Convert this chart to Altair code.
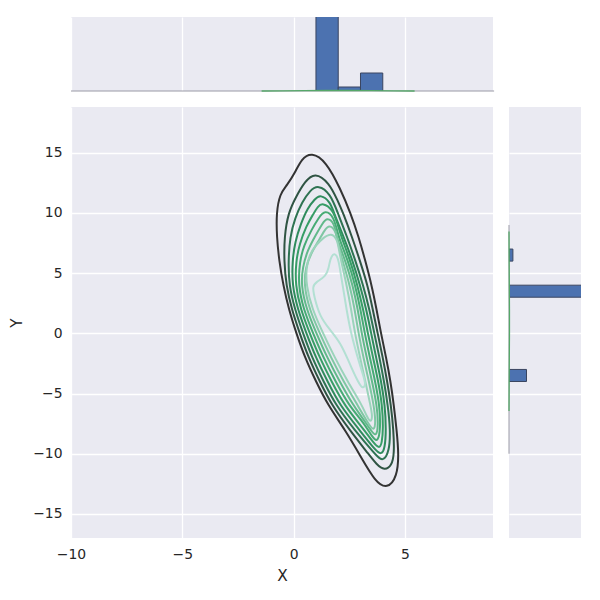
import altair as alt
import pandas as pd

# ---------------- data ----------------
X_DOMAIN = [-10, 8.95]
Y_DOMAIN = [-17.0, 18.8]
X_TICKS = [-10, -5, 0, 5]
Y_TICKS = [-15, -10, -5, 0, 5, 10, 15]

# histogram bins (width 1, from -10 to 9) and counts of the marginals
BIN_EDGES = list(range(-10, 10))
HIST_X_COUNTS = [0, 0, 0, 0, 0, 0, 0, 0, 0, 0, 0, 20, 1, 4.5, 0, 0, 0, 0, 0]
HIST_Y_COUNTS = [0, 0, 0, 0, 0, 0, 4.5, 0, 0, 0, 0, 0, 0, 20, 0, 0, 1, 0, 0]
HIST_MAX = 18.5

# marginal KDE curves (nearly flat on the baseline)
KDE_X_GRID = [-1.44, -0.5, 0.5, 1.5, 2.5, 3.5, 4.5, 5.43]
KDE_X_VALS = [0.0, 0.03, 0.08, 0.12, 0.12, 0.08, 0.03, 0.0]
KDE_Y_GRID = [-6.46, -4, -2, 0, 2, 4, 6, 8.45]
KDE_Y_VALS = [0.0, 0.04, 0.08, 0.12, 0.12, 0.08, 0.04, 0.0]

# contour lines (outer -> inner), traced control points (x, y)
CONTOUR_1 = [(0.8, 15.05), (1.45, 14.3), (2.1, 12.0), (2.55, 10.0), (2.92, 8.0), (3.22, 6.0), (3.5, 4.0),
             (3.72, 2.0), (3.92, 0.0), (4.15, -2.0), (4.35, -4.0), (4.5, -6.0), (4.62, -8.0), (4.72, -10.0),
             (4.65, -11.9), (4.2, -12.95), (3.65, -12.3), (3.0, -10.2), (2.3, -8.0), (1.55, -6.0), (1.0, -4.0),
             (0.5, -2.0), (0.12, 0.0), (-0.22, 2.0), (-0.47, 4.0), (-0.65, 6.0), (-0.76, 8.0), (-0.78, 10.0),
             (-0.62, 11.6), (-0.3, 12.3), (0.05, 13.3), (0.35, 14.5)]
CONTOUR_2 = [(0.95, 13.4), (1.6, 12.5), (1.98, 11.0), (2.22, 10.0), (2.62, 8.0), (2.98, 6.0), (3.32, 4.0),
             (3.55, 2.0), (3.77, 0.0), (4.0, -2.0), (4.2, -4.0), (4.37, -6.0), (4.48, -8.0), (4.52, -10.0),
             (4.4, -11.0), (4.08, -11.4), (3.72, -10.9), (3.35, -10.0), (2.5, -8.0), (1.72, -6.0),
             (1.17, -4.0), (0.66, -2.0), (0.27, 0.0), (-0.09, 2.0), (-0.34, 4.0), (-0.43, 6.0), (-0.42, 8.0),
             (-0.25, 10.0), (0.12, 11.4), (0.5, 12.6)]
CONTOUR_3 = [(1.1, 12.35), (1.65, 11.6), (1.98, 10.0), (2.4, 8.0), (2.78, 6.0), (3.12, 4.0), (3.4, 2.0),
             (3.62, 0.0), (3.85, -2.0), (4.06, -4.0), (4.23, -6.0), (4.34, -8.0), (4.3, -9.8), (4.0, -10.7),
             (3.68, -10.1), (2.72, -8.0), (1.9, -6.0), (1.34, -4.0), (0.82, -2.0), (0.42, 0.0), (0.05, 2.0),
             (-0.21, 4.0), (-0.24, 6.0), (-0.17, 8.0), (0.06, 9.6), (0.38, 10.9), (0.72, 11.85)]
CONTOUR_4 = [(1.2, 11.55), (1.65, 10.9), (1.8, 10.0), (2.25, 8.0), (2.65, 6.0), (2.98, 4.0), (3.26, 2.0),
             (3.48, 0.0), (3.7, -2.0), (3.93, -4.0), (4.1, -6.0), (4.15, -8.0), (4.1, -9.5), (3.94, -10.15),
             (3.62, -9.6), (2.94, -8.0), (2.08, -6.0), (1.52, -4.0), (0.99, -2.0), (0.57, 0.0), (0.18, 2.0),
             (-0.07, 4.0), (-0.06, 6.0), (0.06, 7.6), (0.32, 9.1), (0.62, 10.4), (0.95, 11.15)]
CONTOUR_5 = [(1.3, 10.85), (1.75, 10.3), (1.95, 9.2), (2.14, 8.0), (2.55, 6.0), (2.86, 4.0), (3.12, 2.0),
             (3.33, 0.0), (3.56, -2.0), (3.8, -4.0), (3.98, -6.0), (4.02, -8.0), (3.96, -9.1), (3.86, -9.6),
             (3.58, -9.1), (3.16, -8.0), (2.28, -6.0), (1.7, -4.0), (1.16, -2.0), (0.72, 0.0), (0.31, 2.0),
             (0.07, 4.0), (0.1, 6.0), (0.26, 7.4), (0.56, 8.9), (0.88, 9.9), (1.08, 10.55)]
CONTOUR_6 = [(1.4, 10.25), (1.82, 9.7), (2.0, 8.0), (2.45, 6.0), (2.76, 4.0), (3.0, 2.0), (3.19, 0.0),
             (3.42, -2.0), (3.66, -4.0), (3.86, -6.0), (3.9, -7.9), (3.78, -9.1), (3.52, -8.6),
             (3.18, -7.5), (2.48, -6.0), (1.88, -4.0), (1.33, -2.0), (0.87, 0.0), (0.44, 2.0), (0.2, 4.0),
             (0.27, 6.0), (0.46, 7.3), (0.8, 8.6), (1.12, 9.6)]
CONTOUR_7 = [(1.5, 9.65), (1.85, 9.1), (1.9, 8.0), (2.33, 6.0), (2.65, 4.0), (2.88, 2.0), (3.05, 0.0),
             (3.28, -2.0), (3.52, -4.0), (3.74, -6.0), (3.8, -7.7), (3.7, -8.62), (3.48, -8.1), (3.08, -7.0),
             (2.68, -6.0), (2.06, -4.0), (1.5, -2.0), (1.02, 0.0), (0.57, 2.0), (0.33, 4.0), (0.4, 5.5),
             (0.62, 6.9), (0.97, 8.1), (1.28, 9.1)]
CONTOUR_8 = [(1.6, 9.05), (1.9, 8.5), (1.98, 7.5), (2.2, 6.0), (2.52, 4.0), (2.74, 2.0), (2.91, 0.0),
             (3.13, -2.0), (3.38, -4.0), (3.6, -6.0), (3.68, -7.3), (3.62, -8.15), (3.38, -7.6), (2.88, -6.0),
             (2.24, -4.0), (1.67, -2.0), (1.17, 0.0), (0.7, 2.0), (0.46, 4.0), (0.53, 5.5), (0.8, 6.7),
             (1.12, 7.7), (1.38, 8.55)]
CONTOUR_9 = [(1.7, 8.35), (1.95, 7.8), (2.03, 7.0), (2.13, 6.0), (2.38, 4.0), (2.58, 2.0), (2.75, 0.0),
             (2.98, -2.0), (3.22, -4.0), (3.45, -6.0), (3.54, -6.9), (3.47, -7.45), (3.28, -6.9), (3.08, -6.0),
             (2.42, -4.0), (1.84, -2.0), (1.32, 0.0), (0.83, 2.0), (0.56, 4.0), (0.56, 5.4), (0.7, 6.5),
             (0.98, 7.3), (1.33, 7.95)]
CONTOUR_10 = [(1.82, 6.75), (2.0, 6.25), (2.08, 5.3), (2.2, 4.0), (2.37, 2.0), (2.57, 0.0), (2.87, -2.0),
              (3.14, -3.6), (3.24, -4.25), (3.1, -4.65), (2.88, -4.0), (2.53, -2.6), (2.12, -0.8), (1.58, 0.4),
              (1.18, 1.4), (0.93, 2.96), (0.84, 3.92), (1.0, 4.25), (1.45, 4.75), (1.57, 5.4), (1.64, 6.2)]

CONTOURS = [CONTOUR_1, CONTOUR_2, CONTOUR_3, CONTOUR_4, CONTOUR_5,
            CONTOUR_6, CONTOUR_7, CONTOUR_8, CONTOUR_9, CONTOUR_10]
LEVEL_COLORS = ["#333333", "#2f5443", "#2e7352", "#2f8c5d", "#379d66",
                "#47ab75", "#62b98b", "#7fc7a3", "#9bd4bb", "#b3e0d3"]

# ---------------- tables ----------------
rows = []
for lvl, pts in enumerate(CONTOURS):
    for i, (x, y) in enumerate(pts):
        rows.append({"level": f"L{lvl}", "idx": i, "x": x, "y": y})
contour_df = pd.DataFrame(rows)
level_names = [f"L{i}" for i in range(len(CONTOURS))]

hx = pd.DataFrame({"lo": BIN_EDGES[:-1], "hi": BIN_EDGES[1:], "c": HIST_X_COUNTS})
hy = pd.DataFrame({"lo": BIN_EDGES[:-1], "hi": BIN_EDGES[1:], "c": HIST_Y_COUNTS})
hx_bars = hx[hx.c > 0]
hy_bars = hy[hy.c > 0]
base_x = pd.DataFrame({"a": [BIN_EDGES[0]], "b": [BIN_EDGES[-1]], "z": [0]})
kx = pd.DataFrame({"x": KDE_X_GRID, "v": KDE_X_VALS})
ky = pd.DataFrame({"y": KDE_Y_GRID, "v": KDE_Y_VALS})

BLUE = "#4C72B0"
GREEN = "#55A868"
EDGE = "#3a4560"
BASE = "#9a9aa6"

xs = alt.Scale(domain=X_DOMAIN, nice=False, zero=False)
ys = alt.Scale(domain=Y_DOMAIN, nice=False, zero=False)
hs = alt.Scale(domain=[0, HIST_MAX], nice=False)

ax_main_x = alt.Axis(values=X_TICKS, title="X", format="d", labelFlush=False)
ax_main_y = alt.Axis(values=Y_TICKS, title="Y", format="d", labelFlush=False)
ax_grid_x = alt.Axis(values=X_TICKS, labels=False, title=None)
ax_grid_y = alt.Axis(values=Y_TICKS, labels=False, title=None)

# ---------------- main ----------------
main = alt.Chart(contour_df).mark_line(
    interpolate="basis-closed", strokeWidth=2, clip=True
).encode(
    x=alt.X("x:Q", scale=xs, axis=ax_main_x),
    y=alt.Y("y:Q", scale=ys, axis=ax_main_y),
    color=alt.Color("level:N", scale=alt.Scale(domain=level_names, range=LEVEL_COLORS), legend=None),
    detail="level:N",
    order="idx:Q",
).properties(width=422, height=431)

# ---------------- top marginal ----------------
top_base = alt.Chart(base_x).mark_rule(color=BASE, strokeWidth=1).encode(
    x=alt.X("a:Q", scale=xs, axis=ax_grid_x), x2="b:Q",
    y=alt.Y("z:Q", scale=hs, axis=None),
)
top_bars = alt.Chart(hx_bars).mark_rect(color=BLUE, stroke=EDGE, strokeWidth=1, clip=True).encode(
    x=alt.X("lo:Q", scale=xs, axis=ax_grid_x), x2="hi:Q",
    y=alt.Y("c:Q", scale=hs, axis=None), y2=alt.datum(0),
)
top_kde = alt.Chart(kx).mark_line(color=GREEN, strokeWidth=1.3).encode(
    x=alt.X("x:Q", scale=xs, axis=ax_grid_x),
    y=alt.Y("v:Q", scale=hs, axis=None),
)
top = alt.layer(top_base, top_bars, top_kde).properties(width=422, height=74)

# ---------------- right marginal ----------------
right_base = alt.Chart(base_x).mark_rule(color=BASE, strokeWidth=1).encode(
    y=alt.Y("a:Q", scale=ys, axis=ax_grid_y), y2="b:Q",
    x=alt.X("z:Q", scale=hs, axis=None),
)
right_bars = alt.Chart(hy_bars).mark_rect(color=BLUE, stroke=EDGE, strokeWidth=1, clip=True).encode(
    y=alt.Y("lo:Q", scale=ys, axis=ax_grid_y), y2="hi:Q",
    x=alt.X("c:Q", scale=hs, axis=None), x2=alt.datum(0),
)
right_kde = alt.Chart(ky).mark_line(color=GREEN, strokeWidth=1.3, orient="horizontal").encode(
    y=alt.Y("y:Q", scale=ys, axis=ax_grid_y),
    x=alt.X("v:Q", scale=hs, axis=None),
    order="y:Q",
)
right = alt.layer(right_base, right_bars, right_kde).properties(width=72, height=431)

row = alt.hconcat(main, right, spacing=16, bounds="flush")
chart = alt.vconcat(top, row, spacing=16, bounds="flush").properties(
    padding={"left": 1, "top": 9, "right": 5, "bottom": 5}
).configure_view(
    fill="#EAEAF2", stroke=None
).configure_axis(
    grid=True, gridColor="white", gridWidth=1.3, gridOpacity=1,
    domain=False, ticks=False, tickSize=0, labelFlush=False,
    labelFont="DejaVu Sans", labelFontSize=13.9, labelColor="#262626", labelPadding=9,
    titleFont="DejaVu Sans", titleFontSize=15.3, titleFontWeight="normal", titleColor="#262626",
    titlePadding=8,
).configure_concat(spacing=16)

chart.save("out.html", embed_options={"renderer": "svg", "actions": False})
